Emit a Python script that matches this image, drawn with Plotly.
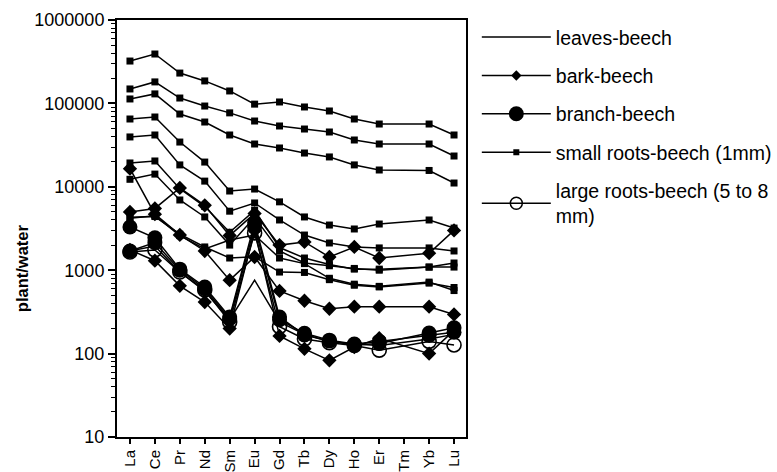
import plotly.graph_objects as go

elements = ["La", "Ce", "Pr", "Nd", "Sm", "Eu", "Gd", "Tb", "Dy", "Ho", "Er", "Tm", "Yb", "Lu"]
y_tick_vals = [10, 100, 1000, 10000, 100000, 1000000]
y_tick_text = ["10", "100", "1000", "10000", "100000", "1000000"]
legend_names = ["leaves-beech", "bark-beech", "branch-beech",
                "small roots-beech (1mm)", "large roots-beech (5 to 8<br>mm)"]

# leaves-beech (line only)
leaves_1 = [1700, 1950, 950, 560, 255, 760, 240, 170, 140, 130, 125, None, 150, 170]

# bark-beech (diamonds)
bark_1 = [5000, 5500, 9700, 6000, 2600, 4800, 2000, 2180, 1440, 1900, 1400, None, 1600, 3000]
bark_2 = [16500, 4700, 2650, 1700, 760, 1440, 565, 430, 345, 365, 365, None, 365, 295]
bark_3 = [1750, 1300, 650, 415, 200, 3000, 163, 114, 83, 120, 153, None, 100, 190]

# branch-beech (filled circles)
branch_1 = [3300, 2450, 1030, 630, 275, 3700, 275, 167, 142, 127, 132, None, 176, 204]
branch_2 = [1700, 2140, 1000, 600, 262, 3300, 255, 175, 145, 130, 140, None, 165, 180]

# small roots-beech (1mm) (squares)
small_1 = [322000, 391000, 231000, 186000, 141000, 98000, 104000, 90600, 81100, 65000, 56600, None, 56600, 41800]
small_2 = [149000, 181000, 116000, 93000, 77000, 61500, 53600, 49300, 45400, 36400, 32600, None, 32600, 23400]
small_3 = [113000, 130000, 74600, 59800, 41800, 32600, 29200, 25400, 22800, 18300, 15900, None, 15700, 11100]
small_4 = [65000, 68700, 34400, 19800, 8900, 9400, 6600, 4350, 3480, 3120, 3580, None, 4000, 3200]
small_5 = [39600, 41800, 18300, 11700, 5100, 6400, 4000, 2640, 2120, 1900, 1850, None, 1850, 1700]
small_6 = [19300, 20400, 9500, 5800, 2850, 5200, 1870, 1400, 1170, 1030, 1030, None, 1090, 1220]
small_7 = [12300, 14200, 6950, 4350, 2000, 4300, 1700, 1220, 1130, 1050, 1000, None, 1090, 1090]
small_8 = [4300, 4400, 2700, 1900, 1400, 1450, 950, 940, 770, 660, 630, None, 700, 620]
small_9 = [4200, 4500, 2600, 1800, 2300, 2640, 1400, 1200, 800, 680, 640, None, 720, 570]

# large roots-beech (5 to 8 mm) (open circles)
large_1 = [1650, 1750, 950, 580, 240, 2800, 210, 150, 135, 125, 110, None, 140, 127]

fig = go.Figure()

def add(values, marker):
    mode = "lines" if marker is None else "lines+markers"
    kw = dict(x=elements, y=values, showlegend=False, mode=mode, connectgaps=True,
              line=dict(color="black", width=1.5), hoverinfo="skip")
    if marker is not None:
        kw["marker"] = marker
    fig.add_trace(go.Scatter(**kw))

sq = dict(symbol="square", size=7, color="black")
dm = dict(symbol="diamond", size=11, color="black")
ci = dict(symbol="circle", size=15, color="black")
oc = dict(symbol="circle-open", size=14, color="black", line=dict(width=1.6, color="black"))

add(leaves_1, None)
for s in [bark_1, bark_2, bark_3]:
    add(s, dm)
for s in [small_1, small_2, small_3, small_4, small_5, small_6, small_7, small_8, small_9]:
    add(s, sq)
for s in [branch_1, branch_2]:
    add(s, ci)
add(large_1, oc)

# legend entries
leg_markers = [None,
               dict(symbol="diamond", size=8, color="black"),
               dict(symbol="circle", size=15, color="black"),
               dict(symbol="square", size=6, color="black"),
               dict(symbol="circle-open", size=12, color="black", line=dict(width=1.5, color="black"))]
for i, (nm, mk) in enumerate(zip(legend_names, leg_markers)):
    kw = dict(x=[None], y=[None], name=nm, legendgroup=str(i), showlegend=True,
              mode="lines" if mk is None else "lines+markers",
              line=dict(color="black", width=1.5))
    if mk is not None:
        kw["marker"] = mk
    fig.add_trace(go.Scatter(**kw))

fig.add_annotation(text="<b>plant/water</b>", textangle=-90, xref="paper", yref="paper",
                   x=-0.272, y=0.405, showarrow=False, font=dict(size=16.5),
                   xanchor="center", yanchor="middle")

fig.update_layout(
    width=777, height=472,
    margin=dict(l=117, r=311, t=20, b=35, autoexpand=False),
    paper_bgcolor="white", plot_bgcolor="white",
    font=dict(family="Liberation Sans, Arial, sans-serif", size=14, color="black"),
    legend=dict(x=1.031, y=1.005, xanchor="left", yanchor="top",
                itemwidth=69, tracegroupgap=10, font=dict(size=19.5),
                bgcolor="rgba(0,0,0,0)"),
)
fig.update_xaxes(
    type="category", range=[-0.52, 13.48], tickangle=-90, automargin=False,
    ticks="outside", ticklen=5, tickwidth=2, tickcolor="black",
    showline=True, linecolor="black", linewidth=2, mirror=True,
    showgrid=False, tickfont=dict(size=15),
)
fig.update_yaxes(
    type="log", range=[1, 6], tickvals=y_tick_vals, ticktext=y_tick_text, automargin=False,
    ticks="outside", ticklen=7, tickwidth=2, tickcolor="black",
    minor=dict(ticks="outside", ticklen=4, tickwidth=1, tickcolor="black", dtick="D1", showgrid=False),
    showline=True, linecolor="black", linewidth=2, mirror=True,
    showgrid=False, tickfont=dict(size=18),
)

fig.write_html("out.html", config={"displayModeBar": False},
               post_script="document.body.style.margin='0';document.body.style.overflow='hidden';")
